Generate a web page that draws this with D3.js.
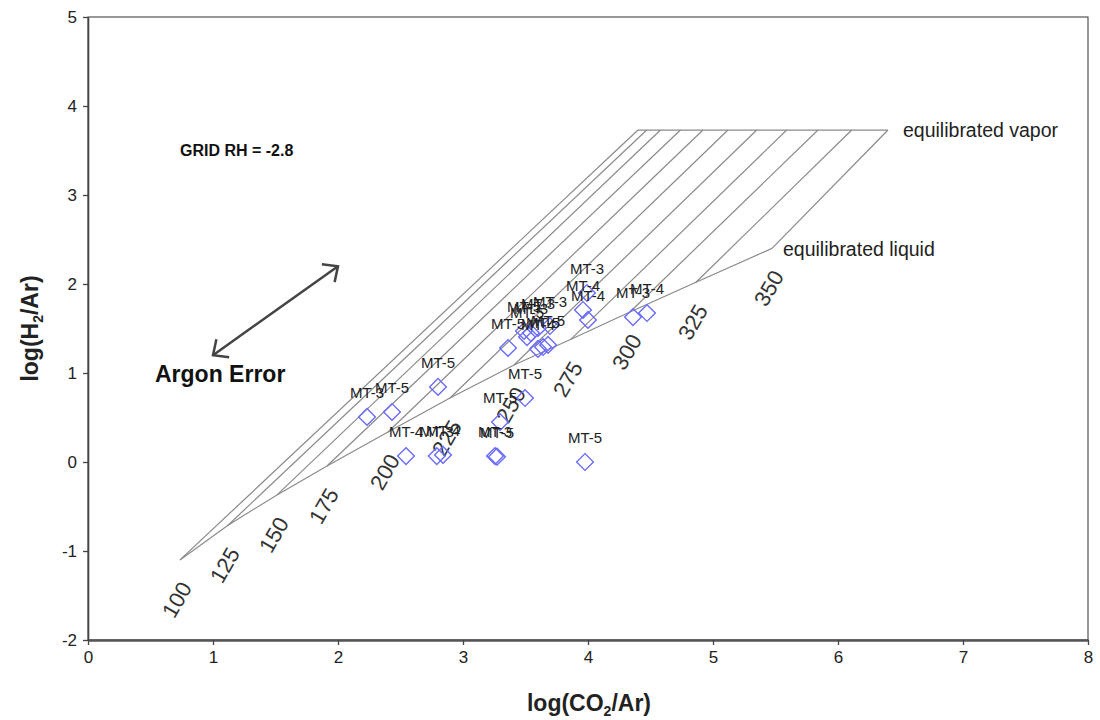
<!DOCTYPE html>
<html>
<head>
<meta charset="utf-8">
<script src="https://cdn.jsdelivr.net/npm/d3@7"></script>
<style>
  body { margin: 0; background: #fff; }
  text { font-family: "Liberation Sans", Arial, sans-serif; }
</style>
</head>
<body>
<div id="chart"></div>
<script>
// isotherm grid (temperature, liquid end, vapor end)
const temps   = [100, 125, 150, 175, 200, 225, 250, 275, 300, 325, 350];
const liquidX = [0.736, 1.12, 1.512, 1.912, 2.40, 2.896, 3.408, 3.864, 4.336, 4.864, 5.472];
const liquidY = [-1.10, -0.71, -0.37, -0.045, 0.337, 0.719, 1.09, 1.38, 1.685, 2.02, 2.40];
const vaporX  = [4.40, 4.47, 4.58, 4.74, 4.92, 5.12, 5.35, 5.59, 5.84, 6.11, 6.40];
const vaporY  = 3.73;

// samples
const sampleX = [2.232, 2.432, 2.80, 2.544, 2.84, 2.79, 3.256, 3.272, 3.296, 3.496, 3.976,
                 3.36, 3.488, 3.512, 3.544, 3.60, 3.696, 3.60, 3.64, 3.68,
                 3.96, 4.0, 3.992, 4.36, 4.472];
const sampleY = [0.506, 0.562, 0.843, 0.067, 0.079, 0.067, 0.067, 0.06, 0.449, 0.719, 0.0,
                 1.281, 1.472, 1.404, 1.449, 1.506, 1.528, 1.27, 1.292, 1.315,
                 1.708, 1.596, 1.899, 1.629, 1.674];
const sampleLabel = ["MT-3", "MT-5", "MT-5", "MT-4", "MT-4", "MT-3", "MT-3", "MT-5", "MT-5", "MT-5", "MT-5",
                     "MT-5", "MT-5", "MT-5", "MT-3", "MT-3", "MT-3", "MT-4", "MT-5", "MT-5",
                     "MT-4", "MT-4", "MT-3", "MT-3", "MT-4"];

const xTicks = [0, 1, 2, 3, 4, 5, 6, 7, 8];
const yTicks = [-2, -1, 0, 1, 2, 3, 4, 5];

// argon error arrow ends
const argonFrom = [1.0, 1.2];
const argonTo   = [2.0, 2.2];

const margin = {top: 17, right: 12, bottom: 80, left: 88};
const W = 1100, H = 720;
const width = W - margin.left - margin.right;
const height = H - margin.top - margin.bottom;

const svg = d3.select("#chart").append("svg")
    .attr("width", W).attr("height", H);

const defs = svg.append("defs");
defs.append("marker")
    .attr("id", "head")
    .attr("markerUnits", "userSpaceOnUse")
    .attr("viewBox", "-14 -14 28 28")
    .attr("markerWidth", 28).attr("markerHeight", 28)
    .attr("refX", 0).attr("refY", 0)
    .attr("orient", "auto-start-reverse")
    .append("path")
    .attr("d", "M-12,-11L0,0L-12,11")
    .attr("fill", "none")
    .attr("stroke", "#444")
    .attr("stroke-width", 2.5);

const g = svg.append("g")
    .attr("transform", "translate(" + margin.left + "," + margin.top + ")");

const x = d3.scaleLinear().domain([0, 8]).range([0, width]);
const y = d3.scaleLinear().domain([-2, 5]).range([height, 0]);

// plot frame
g.append("rect")
    .attr("width", width).attr("height", height)
    .attr("fill", "none").attr("stroke", "#333").attr("stroke-width", 1);

// axes (plain hyphen for negatives, as in the original)
const plain = function(d) { return String(d); };
const xAxis = g.append("g")
    .attr("transform", "translate(0," + height + ")")
    .call(d3.axisBottom(x).tickValues(xTicks).tickFormat(plain)
        .tickSizeInner(5).tickSizeOuter(0).tickPadding(6));
const yAxis = g.append("g")
    .call(d3.axisLeft(y).tickValues(yTicks).tickFormat(plain)
        .tickSizeInner(5).tickSizeOuter(0).tickPadding(6));

[xAxis, yAxis].forEach(function(a) {
    a.select(".domain").attr("stroke", "#444").attr("stroke-width", 1.6);
    a.selectAll(".tick line").attr("stroke", "#444").attr("stroke-width", 1.3);
    a.selectAll(".tick text")
        .attr("fill", "#222")
        .style("font-size", "17px")
        .style("font-family", "Liberation Sans, Arial, sans-serif");
});
xAxis.select(".domain").attr("stroke-width", 2.4).attr("stroke", "#555");

// axis titles
const xt = svg.append("text")
    .attr("x", margin.left + width / 2 + 1).attr("y", 711)
    .attr("text-anchor", "middle")
    .style("font-size", "23px").style("font-weight", "bold").attr("fill", "#222");
xt.append("tspan").text("log(CO");
xt.append("tspan").attr("dy", 5).style("font-size", "14px").text("2");
xt.append("tspan").attr("dy", -5).text("/Ar)");

const yt = svg.append("text")
    .attr("transform", "translate(38," + (margin.top + y(1.5)) + ") rotate(-90)")
    .attr("text-anchor", "middle")
    .style("font-size", "23px").style("font-weight", "bold").attr("fill", "#222");
yt.append("tspan").text("log(H");
yt.append("tspan").attr("dy", 5).style("font-size", "14px").text("2");
yt.append("tspan").attr("dy", -5).text("/Ar)");

// ---------------------------//
//        GRID                //
// ---------------------------//
const gridColor = "#8a8a8a";

g.append("g").selectAll("line")
    .data(temps)
    .enter()
    .append("line")
    .attr("x1", function(d, i) { return x(liquidX[i]); })
    .attr("y1", function(d, i) { return y(liquidY[i]); })
    .attr("x2", function(d, i) { return x(vaporX[i]); })
    .attr("y2", y(vaporY))
    .attr("stroke", gridColor).attr("stroke-width", 1.2);

const liquidLine = d3.line()
    .x(function(d, i) { return x(liquidX[i]); })
    .y(function(d, i) { return y(liquidY[i]); });
g.append("path")
    .datum(temps)
    .attr("d", liquidLine)
    .attr("fill", "none").attr("stroke", gridColor).attr("stroke-width", 1.2);

g.append("line")
    .attr("x1", x(vaporX[0])).attr("x2", x(vaporX[vaporX.length - 1]))
    .attr("y1", y(vaporY)).attr("y2", y(vaporY))
    .attr("stroke", gridColor).attr("stroke-width", 1.2);

g.append("text")
    .attr("x", x(vaporX[vaporX.length - 1]) + 15).attr("y", y(vaporY) + 7)
    .style("font-size", "19.5px").attr("fill", "#222")
    .text("equilibrated vapor");
g.append("text")
    .attr("x", x(liquidX[liquidX.length - 1]) + 11).attr("y", y(liquidY[liquidY.length - 1]) + 8)
    .style("font-size", "19.5px").attr("fill", "#222")
    .text("equilibrated liquid");

// temperature labels
g.append("g").selectAll("text")
    .data(temps)
    .enter()
    .append("text")
    .attr("transform", function(d, i) {
        return "translate(" + (x(liquidX[i]) - 3) + "," + (y(liquidY[i]) + 40) + ") rotate(-60)";
    })
    .attr("text-anchor", "middle")
    .attr("dominant-baseline", "central")
    .style("font-size", "22px").attr("fill", "#333")
    .text(function(d) { return d; });

// ---------------------------//
//       SAMPLES              //
// ---------------------------//
const diamond = d3.symbol().type(d3.symbolSquare).size(140);

g.append("g").selectAll("path")
    .data(sampleX)
    .enter()
    .append("path")
    .attr("d", diamond)
    .attr("transform", function(d, i) {
        return "translate(" + x(d) + "," + y(sampleY[i]) + ") rotate(45)";
    })
    .attr("fill", "none")
    .attr("stroke", "#6b6bff")
    .attr("stroke-width", 1.4);

g.append("g").selectAll("text")
    .data(sampleX)
    .enter()
    .append("text")
    .attr("x", function(d) { return x(d); })
    .attr("y", function(d, i) { return y(sampleY[i]) - 19; })
    .attr("text-anchor", "middle")
    .style("font-size", "15px").attr("fill", "#222")
    .text(function(d, i) { return sampleLabel[i]; });

// ---------------------------//
//   ANNOTATIONS              //
// ---------------------------//
g.append("line")
    .attr("x1", x(argonFrom[0])).attr("y1", y(argonFrom[1]))
    .attr("x2", x(argonTo[0])).attr("y2", y(argonTo[1]))
    .attr("stroke", "#444").attr("stroke-width", 2.5)
    .attr("marker-start", "url(#head)")
    .attr("marker-end", "url(#head)");

svg.append("text")
    .attr("x", 155).attr("y", 382)
    .style("font-size", "23px").style("font-weight", "bold").attr("fill", "#111")
    .text("Argon Error");

svg.append("text")
    .attr("x", 180).attr("y", 156)
    .style("font-size", "16px").style("font-weight", "bold").attr("fill", "#111")
    .text("GRID RH = -2.8");
</script>
</body>
</html>
